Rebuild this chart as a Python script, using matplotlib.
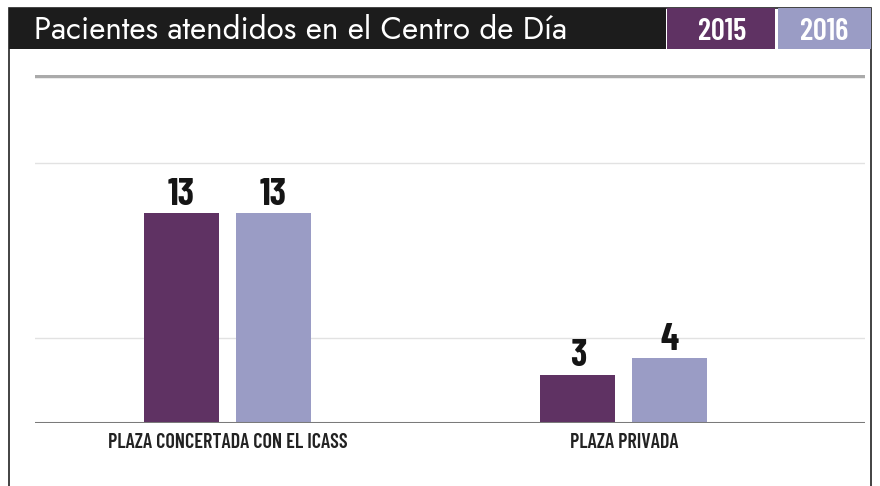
import matplotlib.pyplot as plt
from matplotlib.patches import Rectangle

# datos
categorias = ["PLAZA CONCERTADA CON EL ICASS", "PLAZA PRIVADA"]
anios = ["2015", "2016"]
valores_2015 = [13, 3]
valores_2016 = [13, 4]
titulo = "Pacientes atendidos en el Centro de Día"

morado = "#5f3263"
lavanda = "#9a9cc5"
narrow = ["Barlow Condensed", "DejaVu Sans"]
redonda = ["Jost", "Open Sans", "DejaVu Sans"]

fig = plt.figure(figsize=(8.8, 4.86), dpi=100)
fig.patch.set_facecolor("white")

# marco exterior
fig.add_artist(Rectangle((9 / 880, -0.01), 862 / 880, 1 - 8 / 486 + 0.01, transform=fig.transFigure,
                         facecolor="none", edgecolor="#222222", lw=1.2))

# barra de titulo
fig.add_artist(Rectangle((9 / 880, 1 - 49 / 486), (666 - 9) / 880, 41 / 486, transform=fig.transFigure,
                         facecolor="#1c1c1c", edgecolor="none"))
fig.add_artist(Rectangle((667 / 880, 1 - 49 / 486), 108 / 880, 41 / 486, transform=fig.transFigure,
                         facecolor=morado, edgecolor="none"))
fig.add_artist(Rectangle((778 / 880, 1 - 49 / 486), 93 / 880, 41 / 486, transform=fig.transFigure,
                         facecolor=lavanda, edgecolor="none"))
fig.text(34 / 880, 1 - 39 / 486, titulo, color="white", fontsize=22.5, fontweight="semibold",
         va="baseline", ha="left", family=redonda)
fig.text(722 / 880, 1 - 40 / 486, anios[0], color="white", fontsize=22, fontweight="semibold",
         va="baseline", ha="center", family=narrow)
fig.text(824 / 880, 1 - 40 / 486, anios[1], color="white", fontsize=22, fontweight="semibold",
         va="baseline", ha="center", family=narrow)

# area de grafico
ax = fig.add_axes([35 / 880, 1 - 423 / 486, 830 / 880, 348 / 486])
x = list(range(len(categorias)))
ancho = 0.189
desp = 0.116
b1 = ax.bar([i - desp for i in x], valores_2015, width=ancho, color=morado, zorder=3)
b2 = ax.bar([i + desp for i in x], valores_2016, width=ancho, color=lavanda, zorder=3)

for barras in (b1, b2):
    for b in barras:
        ax.annotate(str(int(b.get_height())), (b.get_x() + b.get_width() / 2, b.get_height()),
                    xytext=(0, 6), textcoords="offset points", ha="center", va="baseline",
                    fontsize=27, fontweight="bold", family=narrow, color="#151515")

ax.set_xlim(-0.4855, 1.608)
ax.set_ylim(0, 21.55)
for yv in (5.26, 16.1):
    ax.axhline(yv, color="#e2e2e2", lw=1, zorder=1)
ax.axhline(21.5, color="#aaaaaa", lw=2.5, zorder=1)
ax.axhline(0, color="#7a7a7a", lw=2.2, zorder=4)

ax.set_xticks(x)
ax.set_xticklabels(categorias, fontsize=14.5, fontweight="semibold", family=narrow, color="#222222")
ax.tick_params(axis="x", length=0, pad=7)
ax.set_yticks([])
for s in ax.spines.values():
    s.set_visible(False)
ax.patch.set_alpha(0)

plt.savefig("out.png", dpi=100)
